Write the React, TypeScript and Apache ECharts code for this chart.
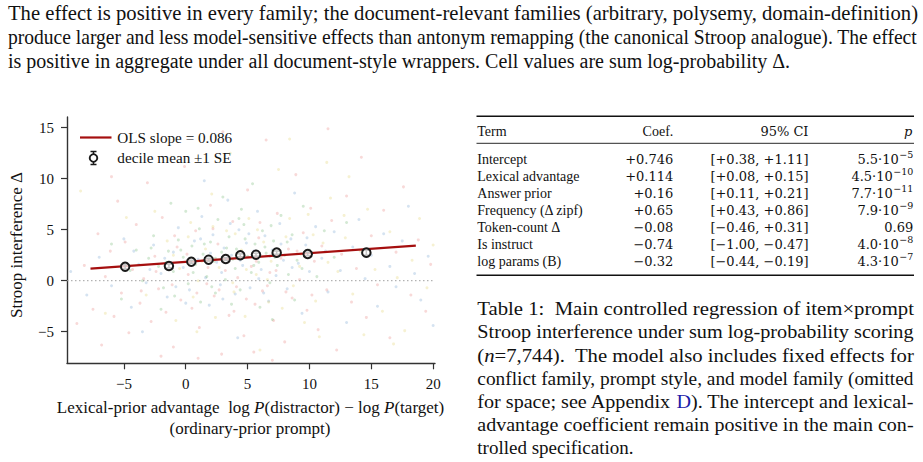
import React, { useEffect, useRef } from "react";
import * as echarts from "echarts";

// ---------------- data ----------------
const X_TICKS = [-5, 0, 5, 10, 15, 20];
const Y_TICKS = [-5, 0, 5, 10, 15];

const DECILE_X = [-4.9, -1.36, 0.45, 1.85, 3.23, 4.41, 5.68, 7.35, 9.86, 14.6];
const DECILE_Y = [1.37, 1.44, 1.86, 2.06, 2.13, 2.49, 2.55, 2.75, 2.62, 2.75];
const DECILE_SE = [0.22, 0.18, 0.15, 0.14, 0.14, 0.14, 0.15, 0.16, 0.18, 0.24];

const OLS_X = [-7.7, 18.6];
const OLS_Y = [1.18, 3.44];
const OLS_SLOPE_LABEL = "OLS slope = 0.086";

const CLOUD_ANTONYM = [
  [-8.8,-4.2],[-8.2,1.5],[-7.5,-2.8],[-7.1,4.6],[-6.8,-6.3],[-6.5,0.4],[-6.1,2.9],[-5.8,-3.5],[-5.5,7.8],[-5.2,-1.2],
  [-4.9,3.8],[-4.6,-5.1],[-4.3,1.1],[-4.0,5.5],[-3.7,-2.2],[-3.4,0.2],[-3.1,9.6],[-2.8,-4.0],[-2.5,2.4],[-2.2,-0.8],
  [-1.9,6.2],[-1.6,-3.1],[-1.3,1.7],[-1.0,-6.5],[-0.7,3.3],[-0.4,-1.9],[-0.1,11.2],[0.2,0.6],[0.5,-2.7],[0.8,4.9],
  [1.1,-4.6],[1.4,2.0],[1.7,-0.3],[2.0,7.4],[2.3,-1.5],[2.6,3.6],[2.9,-7.2],[3.2,1.0],[3.5,-3.4],[3.8,5.8],
  [4.1,-0.6],[4.4,2.7],[4.7,-5.4],[5.0,8.9],[5.3,1.4],[5.6,-2.3],[5.9,4.2],[6.2,-1.0],[6.5,13.8],[6.8,0.8],
  [7.1,-3.9],[7.4,6.6],[7.7,2.2],[8.0,-6.0],[8.3,3.1],[8.6,-1.7],[8.9,10.4],[9.2,0.1],[9.5,4.7],[9.8,-2.9],
  [10.1,7.1],[10.4,1.9],[10.7,-4.8],[11.0,3.4],[11.4,-0.9],[11.8,5.9],[12.2,-6.8],[12.6,2.6],[13.0,8.3],[13.4,-2.1],
  [13.8,1.2],[14.2,12.1],[14.6,-3.6],[15.0,4.4],[15.5,-0.4],[16.0,6.9],[16.5,-5.6],[17.0,2.8],[17.6,9.2],[18.2,-1.4],
  [18.8,4.0],[19.4,-3.0],[19.8,1.6],[-2.0,-7.4],[1.0,-7.6],[5.5,-7.0],[3.0,14.6],[-6.0,10.2],[11.5,14.9],[7.0,-7.8],
  [-3.6,-1.0],[-2.4,0.9],[-1.1,-0.4],[0.1,2.6],[0.9,-1.2],[1.8,1.3],[2.7,-0.9],[3.4,2.3],[4.2,0.3],[4.9,-1.8],
  [5.7,1.9],[6.6,-0.5],[7.3,1.0],[8.1,-1.1],[9.0,2.9],[10.2,-1.4],[2.2,5.1],[-0.9,4.4],[6.0,5.7],[3.9,-3.0]
];
const CLOUD_ARBITRARY = [
  [-9.3,0.9],[-8.0,-1.4],[-7.0,2.3],[-6.0,-0.5],[-5.0,4.1],[-4.4,-2.6],[-3.8,1.6],[-3.2,-0.2],[-2.6,3.5],[-2.0,0.7],
  [-1.5,-1.6],[-1.0,2.8],[-0.6,5.2],[-0.2,1.3],[0.3,-0.9],[0.7,3.9],[1.0,2.1],[1.3,6.3],[1.6,0.3],[1.9,-2.4],
  [2.2,4.5],[2.5,1.8],[2.8,-0.4],[3.1,3.2],[3.4,7.9],[3.7,2.5],[4.0,-1.3],[4.3,5.0],[4.6,1.5],[4.9,3.7],
  [5.2,-0.7],[5.5,2.9],[5.8,6.8],[6.1,1.1],[6.4,4.4],[6.7,-2.0],[7.0,3.0],[7.3,0.5],[7.6,5.6],[7.9,2.0],
  [8.2,-0.8],[8.5,4.1],[8.8,8.6],[9.1,1.7],[9.4,-3.2],[9.7,3.5],[10.0,0.9],[10.5,5.3],[11.0,2.2],[11.5,-1.1],
  [12.0,4.8],[12.5,1.0],[13.0,-4.1],[13.5,3.3],[14.0,6.0],[14.5,0.2],[15.0,2.5],[15.5,-2.5],[16.0,4.6],[16.5,1.4],
  [17.0,-0.6],[17.5,3.9],[18.0,7.3],[18.5,0.7],[19.0,-1.9],[19.6,2.4],[20.0,-4.4],[4.2,-5.6],[1.5,9.8],[-3.5,-5.0],
  [-2.9,1.1],[-1.7,2.2],[-0.8,-0.6],[0.5,1.9],[1.2,4.1],[2.0,2.7],[2.9,0.8],[3.6,5.6],[4.4,2.0],[5.1,4.6],
  [5.9,0.2],[6.8,2.4],[7.7,3.6],[8.6,1.3],[9.8,4.2],[11.3,2.9],[0.0,-2.2],[3.0,-1.8],[6.3,-1.2],[-4.2,2.9]
];
const CLOUD_POLYSEMY = [
  [-4.5,1.0],[-4.0,3.0],[-3.5,0.0],[-3.0,2.2],[-2.6,4.4],[-2.2,1.4],[-1.8,-0.7],[-1.4,2.9],[-1.0,0.9],[-0.6,4.0],
  [-0.2,2.3],[0.2,-0.3],[0.5,3.4],[0.8,1.6],[1.1,5.1],[1.4,2.6],[1.7,0.4],[2.0,3.8],[2.3,1.9],[2.6,6.0],
  [2.9,2.8],[3.2,0.1],[3.5,4.3],[3.8,2.1],[4.1,3.1],[4.4,-0.9],[4.7,5.5],[5.0,2.4],[5.3,0.8],[5.6,3.6],
  [5.9,1.8],[6.2,4.9],[6.5,2.7],[6.8,-0.2],[7.1,3.9],[7.4,1.5],[7.7,6.4],[8.0,2.5],[8.3,0.6],[8.6,4.5],
  [9.0,2.0],[9.5,7.3],[10.0,3.0],[10.6,0.4],[11.2,4.9],[12.0,2.3],[13.0,5.7],[-6.0,3.6],[-5.2,-1.8],[1.2,-2.1],
  [3.0,8.2],[6.0,-2.6],[0.0,6.8],[4.5,7.0],[-2.0,-2.8],[8.8,-1.9],[2.4,-1.2],[5.4,9.5],[-1.2,7.6],[7.0,-3.8],
  [-2.8,3.2],[-1.6,1.8],[-0.4,3.0],[0.6,0.8],[1.5,3.6],[2.4,2.2],[3.3,3.2],[4.0,1.2],[4.8,4.1],[5.5,1.5],
  [6.4,3.3],[7.2,2.3],[8.2,3.8],[9.4,1.2],[-0.9,-1.5],[2.1,-0.6],[4.3,6.1],[6.9,5.4],[1.0,7.1],[3.7,-2.3]
];
const CLOUD_DOMAIN = [
  [-2.5,6.8],[-1.5,3.9],[-0.5,1.2],[0.4,5.7],[1.0,0.0],[1.6,3.1],[2.1,8.5],[2.7,1.3],[3.3,4.9],[3.9,-1.1],
  [4.5,3.0],[5.1,6.1],[5.7,0.6],[6.3,3.8],[6.9,1.9],[7.5,10.9],[8.1,4.3],[8.7,-0.5],[9.3,2.6],[9.9,6.5],
  [10.5,-2.0],[11.1,3.7],[11.7,8.1],[12.3,0.9],[12.9,4.2],[13.5,-1.3],[14.1,2.9],[14.7,7.0],[15.3,1.1],[15.9,-3.0],
  [16.5,4.8],[17.1,0.3],[17.7,-4.9],[18.3,2.0],[18.9,6.1],[19.5,-0.7],[-6.5,-3.2],[-4.8,6.2],[-3.2,-1.4],[0.9,-5.0],
  [3.6,12.5],[6.0,-6.8],[8.4,13.9],[10.8,-5.5],[13.2,10.2],[-8.5,8.8],[20.0,3.5],[4.8,-3.5],[11.4,11.6],[16.8,-6.2],
  [7.8,-2.7],[2.4,-3.6],[9.6,-4.1],[14.4,-5.3],[-0.8,-3.9],
  [-1.0,2.5],[0.2,4.3],[1.3,1.9],[2.2,5.3],[3.1,2.0],[4.0,4.6],[4.9,1.1],[5.8,5.0],[6.6,0.1],[7.4,2.9],
  [8.4,6.1],[9.2,1.4],[10.3,4.5],[11.5,1.8],[12.8,6.4],[0.6,-1.6],[3.8,-0.2],[6.7,-2.1]
];

const TABLE_HEAD = ["Term", "Coef.", "95% CI", "p"];
const TABLE_TERMS = ["Intercept", "Lexical advantage", "Answer prior", "Frequency (\u0394 zipf)", "Token-count \u0394", "Is instruct", "log params (B)"];
const TABLE_COEF = ["+0.746", "+0.114", "+0.16", "+0.65", "\u22120.08", "\u22120.74", "\u22120.32"];
const TABLE_CI = ["[+0.38, +1.11]", "[+0.08, +0.15]", "[+0.11, +0.21]", "[+0.43, +0.86]", "[\u22120.46, +0.31]", "[\u22121.00, \u22120.47]", "[\u22120.44, \u22120.19]"];
const TABLE_P_BASE = ["5.5\u00b710", "4.5\u00b710", "7.7\u00b710", "7.9\u00b710", "0.69", "4.0\u00b710", "4.3\u00b710"];
const TABLE_P_EXP = ["\u22125", "\u221210", "\u221211", "\u22129", "", "\u22128", "\u22127"];

const PARA_LINES = [
  "The effect is positive in every family; the document-relevant families (arbitrary, polysemy, domain-definition)",
  "produce larger and less model-sensitive effects than antonym remapping (the canonical Stroop analogue). The effect",
  "is positive in aggregate under all document-style wrappers. Cell values are sum log-probability \u0394.",
];
const CAPTION_LINES = [
  "Table 1:  Main controlled regression of item\u00d7prompt",
  "Stroop interference under sum log-probability scoring",
  "(n=7,744).  The model also includes fixed effects for",
  "conflict family, prompt style, and model family (omitted",
  "for space; see Appendix D). The intercept and lexical-",
  "advantage coefficient remain positive in the main con-",
  "trolled specification.",
];
const CAPTION_RICH = [
  null,
  null,
  "({i|n}=7,744).  The model also includes fixed effects for",
  null,
  "for space; see Appendix {b|D}). The intercept and lexical-",
  null,
  null,
];

const SERIF = "Liberation Serif";
const MATH = "DejaVu Serif";
const INK = "#111";

const cvs = typeof document !== "undefined" ? document.createElement("canvas") : null;
const mctx = cvs ? cvs.getContext("2d") : null;
function measure(text: string, size: number, family: string = SERIF, style = "normal") {
  if (!mctx) return text.length * size * 0.45;
  mctx.font = `${style} ${size}px "${family}"`;
  return mctx.measureText(text).width;
}

// one line of body text; every line carries an explicit serif rich style
function lineText(plain: string, rich: string | null, x0: number, x1: number, y: number, size: number, justify: boolean) {
  const w = measure(plain, size);
  const sx = justify && w > 0 ? Math.round(((x1 - x0) / w) * 1000) / 1000 : 1;
  const base = { fontSize: size, fontFamily: SERIF, fontStyle: "normal", fontWeight: "normal", fill: INK };
  const style: any = {
    text: rich ?? "{r|" + plain + "}",
    ...base,
    align: "left",
    verticalAlign: "middle",
    rich: {
      r: { ...base },
      i: { ...base, fontStyle: "italic" },
      b: { ...base, fill: "#1c1ca8" },
    },
  };
  return { type: "text", x: x0, y, scaleX: sx, silent: true, style };
}

function buildGraphics() {
  const g: any[] = [];
  // top paragraph: size chosen so the (unjustified) last line ends where it does in the source
  const rawFs = (18 * 780) / measure(PARA_LINES[2], 18);
  const paraFs = Math.round(Math.max(16, Math.min(22, rawFs)));
  const paraY = [13, 37, 60.5];
  PARA_LINES.forEach((l, i) => {
    g.push(lineText(l, null, 8, 918, paraY[i], paraFs, i < 2));
  });

  // caption
  const capFs = 19;
  const capY = [308.3, 331.7, 355, 378.3, 401.7, 425, 447.8];
  CAPTION_LINES.forEach((l, i) => {
    g.push(lineText(l, CAPTION_RICH[i] ? "{r|" + CAPTION_RICH[i]!.replace(/\{([ib])\|([^}]*)\}/g, "}{$1|$2}{r|") + "}" : null, 477.3, 914, capY[i], capFs, i < 6));
  });

  // table rules
  const tx0 = 476.5, tx1 = 914;
  g.push({ type: "line", silent: true, shape: { x1: tx0, y1: 116.2, x2: tx1, y2: 116.2 }, style: { stroke: "#111", lineWidth: 1.6 } });
  g.push({ type: "line", silent: true, shape: { x1: tx0, y1: 143.3, x2: tx1, y2: 143.3 }, style: { stroke: "#111", lineWidth: 0.9 } });
  g.push({ type: "line", silent: true, shape: { x1: tx0, y1: 275.2, x2: tx1, y2: 275.2 }, style: { stroke: "#111", lineWidth: 1.6 } });

  const colTerm = 477.3, colCoef = 673.3, colCI = 808.5, colP = 913.3;
  const headY = 131.7;
  const tfs = 14, mfs = 13, sfs = 9.5;
  const txt = (text: string, x: number, y: number, align: string, family = SERIF, size = tfs, extra: any = {}) => ({
    type: "text", x, y, silent: true,
    style: { text, fontSize: size, fontFamily: family, fill: INK, align, verticalAlign: "middle", ...extra },
  });
  g.push(txt(TABLE_HEAD[0], colTerm, headY, "left"));
  g.push(txt(TABLE_HEAD[1], colCoef, headY, "right"));
  g.push(txt(TABLE_HEAD[2], colCI, headY, "right", MATH, mfs));
  g.push(txt(TABLE_HEAD[3], colP - 1, headY, "right", MATH, mfs, { fontStyle: "italic" }));

  TABLE_TERMS.forEach((term, i) => {
    const y = 159 + i * 17.1;
    g.push(txt(term, colTerm, y, "left"));
    g.push(txt(TABLE_COEF[i], colCoef, y, "right", MATH, mfs));
    g.push(txt(TABLE_CI[i], colCI, y, "right", MATH, mfs));
    const exp = TABLE_P_EXP[i];
    if (exp) {
      const ew = measure(exp, sfs, MATH);
      g.push(txt(exp, colP - ew, y - 5, "left", MATH, sfs));
      g.push(txt(TABLE_P_BASE[i], colP - ew - 0.5, y, "right", MATH, mfs));
    } else {
      g.push(txt(TABLE_P_BASE[i], colP, y, "right", MATH, mfs));
    }
  });

  // axis titles
  g.push({
    type: "text", x: 16, y: 245, rotation: Math.PI / 2, silent: true,
    style: { text: "Stroop interference \u0394", fontSize: 17, fontFamily: SERIF, fill: INK, align: "center", verticalAlign: "middle" },
  });
  g.push({
    type: "text", x: 250.5, y: 407, silent: true,
    style: {
      text: "Lexical-prior advantage  log {i|P}(distractor) \u2212 log {i|P}(target)",
      fontSize: 17, fontFamily: SERIF, fill: INK, align: "center", verticalAlign: "middle",
      rich: { i: { fontSize: 17, fontFamily: SERIF, fontStyle: "italic", fill: INK } },
    },
  });
  g.push({
    type: "text", x: 250, y: 428, silent: true,
    style: { text: "(ordinary-prior prompt)", fontSize: 17, fontFamily: SERIF, fill: INK, align: "center", verticalAlign: "middle" },
  });

  // legend
  g.push({ type: "line", silent: true, shape: { x1: 80, y1: 137.5, x2: 111.5, y2: 137.5 }, style: { stroke: "#a50f0f", lineWidth: 2.2 } });
  g.push(txt(OLS_SLOPE_LABEL, 117.3, 137, "left", SERIF, 15.2));
  g.push({ type: "line", silent: true, shape: { x1: 93.5, y1: 151.5, x2: 93.5, y2: 164.5 }, style: { stroke: "#1a1a1a", lineWidth: 1.5 } });
  g.push({ type: "line", silent: true, shape: { x1: 90.5, y1: 151.5, x2: 96.5, y2: 151.5 }, style: { stroke: "#1a1a1a", lineWidth: 1.5 } });
  g.push({ type: "line", silent: true, shape: { x1: 90.5, y1: 164.5, x2: 96.5, y2: 164.5 }, style: { stroke: "#1a1a1a", lineWidth: 1.5 } });
  g.push({ type: "circle", silent: true, shape: { cx: 93.5, cy: 158, r: 3.8 }, style: { fill: "#fff", stroke: "#1a1a1a", lineWidth: 1.9 } });
  g.push(txt("decile mean \u00b11 SE", 117.3, 157.7, "left", SERIF, 15.2));
  return g;
}

const X_MIN = -9.6, X_MAX = 20.15, Y_MIN = -8.1, Y_MAX = 16.05;

function cloud(name: string, data: number[][], color: string) {
  return {
    name, type: "scatter", data, symbolSize: 3, silent: true, z: 1,
    itemStyle: { color, opacity: 0.22 },
  };
}

const tickFmt = (v: number) => (v < 0 ? "\u2212" + Math.abs(v) : String(v));

export default function App() {
  const ref = useRef<HTMLDivElement>(null);
  useEffect(() => {
    if (!ref.current) return;
    const chart = echarts.init(ref.current, null, { renderer: "svg" });
    const axisColor = "#333";
    chart.setOption({
      animation: false,
      backgroundColor: "#fff",
      textStyle: { fontFamily: SERIF },
      grid: { left: 67, top: 117, width: 368, height: 246.3, containLabel: false },
      xAxis: {
        type: "value", min: X_MIN, max: X_MAX,
        axisLine: { show: true, onZero: false, lineStyle: { color: axisColor, width: 1.4 } },
        axisTick: { show: true, customValues: X_TICKS, length: 6, lineStyle: { color: axisColor, width: 1.2 } },
        axisLabel: { customValues: X_TICKS, margin: 13, fontSize: 15, fontFamily: SERIF, color: INK, formatter: tickFmt },
        splitLine: { show: false },
      },
      yAxis: {
        type: "value", min: Y_MIN, max: Y_MAX,
        axisLine: { show: true, onZero: false, lineStyle: { color: axisColor, width: 1.4 } },
        axisTick: { show: true, customValues: Y_TICKS, length: 6, lineStyle: { color: axisColor, width: 1.2 } },
        axisLabel: { customValues: Y_TICKS, margin: 13, fontSize: 15, fontFamily: SERIF, color: INK, formatter: tickFmt },
        splitLine: { show: false },
      },
      series: [
        cloud("antonym", CLOUD_ANTONYM, "#e0504f"),
        cloud("arbitrary", CLOUD_ARBITRARY, "#3f7fc0"),
        cloud("polysemy", CLOUD_POLYSEMY, "#3a9a3a"),
        cloud("domain-definition", CLOUD_DOMAIN, "#d8c030"),
        {
          name: "zero", type: "line", data: [[X_MIN, 0], [X_MAX, 0]], symbol: "none", silent: true, z: 2,
          lineStyle: { color: "#a0a0a0", width: 1, type: [1.5, 2.5] },
        },
        {
          name: "OLS", type: "line", data: OLS_X.map((x, i) => [x, OLS_Y[i]]), symbol: "none", silent: true, z: 3,
          lineStyle: { color: "#a50f0f", width: 2.2 },
        },
        {
          name: "se", type: "custom", silent: true, z: 4,
          data: DECILE_X.map((x, i) => [x, DECILE_Y[i], DECILE_SE[i]]),
          renderItem: (params: any, api: any) => {
            const x = api.value(0), y = api.value(1), se = api.value(2);
            const top = api.coord([x, y + se]);
            const bot = api.coord([x, y - se]);
            const st = { stroke: "#1a1a1a", lineWidth: 1.5 };
            return {
              type: "group",
              children: [
                { type: "line", shape: { x1: top[0], y1: top[1], x2: bot[0], y2: bot[1] }, style: st },
                { type: "line", shape: { x1: top[0] - 3, y1: top[1], x2: top[0] + 3, y2: top[1] }, style: st },
                { type: "line", shape: { x1: bot[0] - 3, y1: bot[1], x2: bot[0] + 3, y2: bot[1] }, style: st },
              ],
            };
          },
        },
        {
          name: "decile mean", type: "scatter", z: 5, silent: true,
          data: DECILE_X.map((x, i) => [x, DECILE_Y[i]]),
          symbol: "circle", symbolSize: 8.5,
          itemStyle: { color: "rgba(255,255,255,0.75)", borderColor: "#1a1a1a", borderWidth: 2, opacity: 1 },
        },
      ],
      graphic: buildGraphics(),
    });
    return () => chart.dispose();
  }, []);
  return (
    <div
      ref={ref}
      style={{ position: "fixed", left: 0, top: 0, width: 923, height: 462, background: "#fff" }}
    />
  );
}
